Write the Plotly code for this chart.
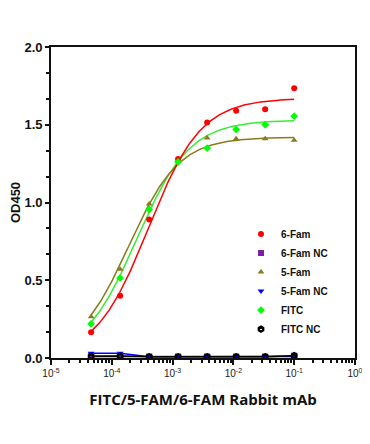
import numpy as np
import plotly.graph_objects as go

conc = [4.57e-5, 1.37e-4, 4.12e-4, 1.23e-3, 3.70e-3, 1.11e-2, 3.33e-2, 1.0e-1]

fam6 = [0.165, 0.40, 0.89, 1.28, 1.515, 1.59, 1.60, 1.735]
fam6_nc = [0.015, 0.015, 0.010, 0.010, 0.010, 0.010, 0.010, 0.015]
fam5 = [0.265, 0.57, 0.99, 1.27, 1.415, 1.41, 1.41, 1.40]
fam5_nc = [0.030, 0.030, 0.008, 0.008, 0.008, 0.008, 0.008, 0.010]
fitc = [0.22, 0.515, 0.955, 1.26, 1.35, 1.47, 1.50, 1.555]
fitc_nc = [0.010, 0.012, 0.008, 0.008, 0.008, 0.008, 0.008, 0.015]

# 4PL fit parameters (bottom, top, EC50, hill)
fit_6fam = [0.0, 1.67, 4.0e-4, 1.0]
fit_5fam = [0.02, 1.42, 1.9e-4, 1.05]
fit_fitc = [0.0, 1.53, 2.58e-4, 1.0]

names = ["6-Fam", "6-Fam NC", "5-Fam", "5-Fam NC", "FITC", "FITC NC"]
colors = ["#FF0000", "#7F1FA0", "#8A7A1C", "#0000FF", "#00FF00", "#000000"]
symbols = ["circle", "square", "triangle-up", "triangle-down", "diamond", "hexagon-open"]
series = [fam6, fam6_nc, fam5, fam5_nc, fitc, fitc_nc]

x_ticks = [1e-5, 1e-4, 1e-3, 1e-2, 1e-1, 1]
x_ticktext = ["10<sup>-5</sup>", "10<sup>-4</sup>", "10<sup>-3</sup>", "10<sup>-2</sup>", "10<sup>-1</sup>", "10<sup>0</sup>"]
y_ticks = [0, 0.5, 1.0, 1.5, 2.0]
y_ticktext = ["<b>0.0</b>", "<b>0.5</b>", "<b>1.0</b>", "<b>1.5</b>", "<b>2.0</b>"]


def four_pl(x, p):
    b, t, ec, h = p
    return b + (t - b) / (1 + (ec / x) ** h)


xs = np.logspace(np.log10(conc[0]), np.log10(conc[-1]), 200)

fig = go.Figure()

curve_colors = {"6-Fam": "#FF0000", "5-Fam": "#8A7A1C", "FITC": "#33EE33"}
# NC lines
for nm, ys, c in [("6-Fam NC", fam6_nc, "#8A2BE2"), ("5-Fam NC", fam5_nc, "#0000FF"), ("FITC NC", fitc_nc, "#000000")]:
    fig.add_trace(go.Scatter(x=conc, y=ys, mode="lines", line=dict(color=c, width=1.5), showlegend=False, hoverinfo="skip"))

for nm, p in [("FITC", fit_fitc), ("5-Fam", fit_5fam), ("6-Fam", fit_6fam)]:
    fig.add_trace(go.Scatter(x=xs, y=four_pl(xs, p), mode="lines", line=dict(color=curve_colors[nm], width=1.5),
                             showlegend=False, hoverinfo="skip"))

for nm, ys, c, s in zip(names, series, colors, symbols):
    mk = dict(color=c, symbol=s, size=6)
    if s == "hexagon-open":
        mk = dict(color=c, symbol=s, size=5, line=dict(width=2.4, color=c))
    fig.add_trace(go.Scatter(x=conc, y=ys, mode="markers", name=nm, marker=mk))

# the page body adds an 8px offset, so the figure is 8px smaller than the window
fig.update_layout(
    width=362, height=436,
    margin=dict(l=43, r=15, t=39, b=86),
    paper_bgcolor="white", plot_bgcolor="white",
    font=dict(family="Liberation Sans", color="#111111"),
    legend=dict(x=0.625, y=0.445, xanchor="left", yanchor="top", bgcolor="rgba(0,0,0,0)",
                font=dict(size=10, family="Liberation Sans", weight="bold"),
                tracegroupgap=0),
    showlegend=True,
)

fig.update_xaxes(
    type="log", range=[-5, 0], automargin=False,
    tickvals=x_ticks, ticktext=x_ticktext,
    ticks="outside", ticklen=5, tickwidth=1.5, tickcolor="#111",
    minor=dict(ticks="outside", ticklen=3, tickcolor="#111", dtick="D1", showgrid=False),
    showline=True, linecolor="#111", linewidth=1.8, mirror=True,
    showgrid=False, zeroline=False,
    tickfont=dict(size=10, family="Liberation Sans", color="#222"),
    title=dict(text="FITC/5-FAM/6-FAM Rabbit mAb", font=dict(size=15, family="Open Sans", weight="bold"), standoff=17),
)
fig.update_yaxes(
    range=[0, 2.0], tickvals=y_ticks, ticktext=y_ticktext, automargin=False,
    ticks="outside", ticklen=4, tickwidth=1.5, tickcolor="#111",
    minor=dict(ticks="outside", ticklen=3, tickcolor="#111", dtick=0.5 / 3, showgrid=False),
    showline=True, linecolor="#111", linewidth=1.8, mirror=True,
    showgrid=False, zeroline=False,
    tickfont=dict(size=13, family="Liberation Sans"),
    title=dict(text="<b>OD450</b>", font=dict(size=13, family="Liberation Sans"), standoff=3),
)

fig.write_html("out.html")
